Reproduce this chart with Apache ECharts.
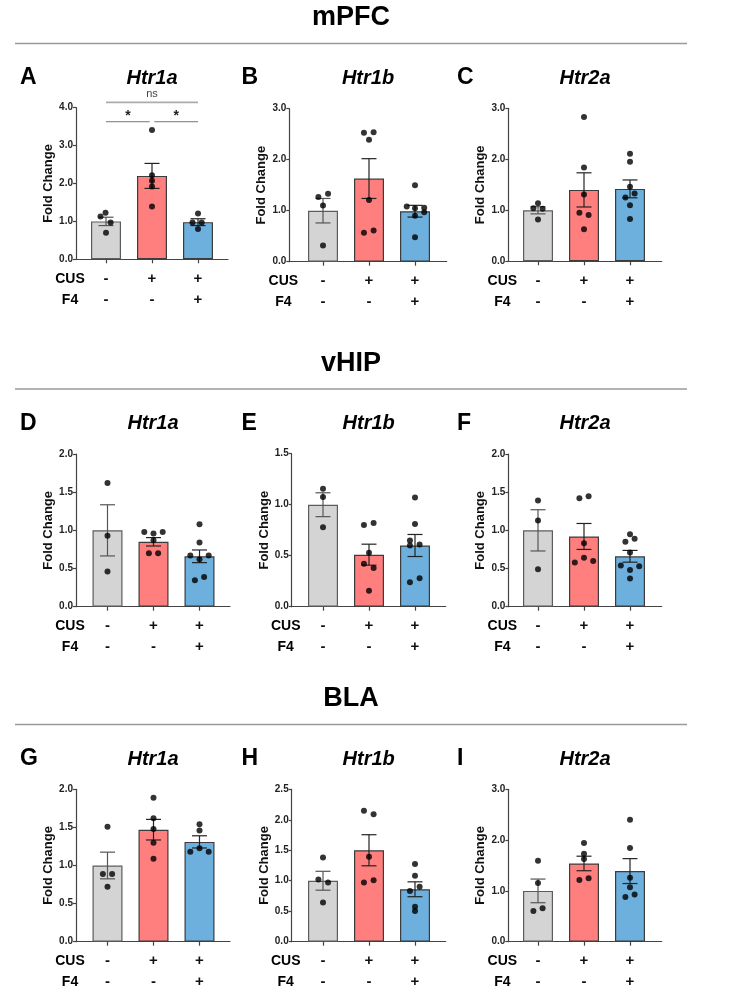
<!DOCTYPE html>
<html lang="en">
<head>
<meta charset="UTF-8">
<title>Fold Change</title>
<script src="https://cdn.jsdelivr.net/npm/echarts@6/dist/echarts.min.js"></script>
<style>
    html, body { margin: 0; padding: 0; background: #fff; }
    #pic { width: 734px; height: 1001px; }
</style>
</head>
<body>
<div id="pic"></div>
<script type="text/javascript">
    // ---- data ----
    var regions = ['mPFC', 'vHIP', 'BLA'];
    var genes = ['Htr1a', 'Htr1b', 'Htr2a'];
    var panelLetters = ['A', 'B', 'C', 'D', 'E', 'F', 'G', 'H', 'I'];
    var cusSigns = ['-', '+', '+'];
    var f4Signs = ['-', '-', '+'];

    var yMax = [4, 3, 3, 2, 1.5, 2, 2, 2.5, 3];
    var yStep = [1, 1, 1, 0.5, 0.5, 0.5, 0.5, 0.5, 1];

    // bar heights (mean) for ctrl / CUS / CUS+F4
    var barMeans = [
        [1.00, 2.20, 0.98],
        [1.00, 1.63, 0.99],
        [1.00, 1.40, 1.42],
        [1.00, 0.85, 0.66],
        [1.00, 0.51, 0.60],
        [1.00, 0.92, 0.66],
        [1.00, 1.47, 1.31],
        [1.00, 1.50, 0.86],
        [1.00, 1.54, 1.39]
    ];
    // error bars (SEM)
    var barSems = [
        [0.11, 0.33, 0.09],
        [0.24, 0.39, 0.115],
        [0.07, 0.335, 0.175],
        [0.335, 0.055, 0.083],
        [0.117, 0.103, 0.108],
        [0.27, 0.17, 0.077],
        [0.175, 0.135, 0.08],
        [0.155, 0.255, 0.122],
        [0.233, 0.143, 0.245]
    ];

    // individual animals: [jitter, value] per group
    var ptsA = [
        [[-0.01, 1.23], [-0.12, 1.13], [0.1, 0.97], [0, 0.70]],
        [[0, 3.41], [0, 2.22], [0, 2.07], [0, 1.92], [0, 1.39]],
        [[0, 1.21], [-0.12, 0.97], [0.08, 0.97], [0, 0.80]]
    ];
    var ptsB = [
        [[-0.1, 1.27], [0.11, 1.33], [0, 1.10], [0, 0.32]],
        [[-0.11, 2.53], [0.1, 2.54], [0, 2.39], [0, 1.21], [-0.11, 0.57], [0.1, 0.61]],
        [[0, 1.50], [-0.18, 1.08], [0, 1.05], [0.2, 1.06], [0.2, 0.97], [0, 0.90], [0, 0.48]]
    ];
    var ptsC = [
        [[0, 1.14], [-0.1, 1.04], [0.1, 1.03], [0, 0.82]],
        [[0, 2.83], [0, 1.84], [0, 1.31], [-0.1, 0.95], [0.1, 0.91], [0, 0.63]],
        [[0, 2.11], [0, 1.95], [0, 1.46], [-0.1, 1.25], [0.1, 1.33], [0, 1.10], [0, 0.83]]
    ];
    var ptsD = [
        [[0, 1.62], [0, 0.93], [0, 0.46]],
        [[-0.2, 0.98], [0, 0.96], [0.2, 0.98], [0, 0.87], [-0.1, 0.70], [0.1, 0.70]],
        [[0, 1.08], [0, 0.84], [-0.2, 0.67], [0.2, 0.67], [0, 0.62], [-0.1, 0.345], [0.1, 0.39]]
    ];
    var ptsE = [
        [[0, 1.157], [0, 1.075], [0, 0.78]],
        [[-0.11, 0.80], [0.1, 0.82], [0, 0.53], [-0.11, 0.42], [0.1, 0.38], [0, 0.157]],
        [[0, 1.07], [0, 0.81], [-0.11, 0.65], [0.1, 0.61], [-0.11, 0.60], [-0.11, 0.24], [0.1, 0.28]]
    ];
    var ptsF = [
        [[0, 1.39], [0, 1.13], [0, 0.49]],
        [[-0.1, 1.42], [0.1, 1.445], [0, 0.83], [-0.2, 0.58], [0, 0.64], [0.2, 0.60]],
        [[0, 0.95], [0.1, 0.89], [-0.1, 0.85], [0, 0.71], [-0.2, 0.54], [0.2, 0.53], [0, 0.48], [0, 0.37]]
    ];
    var ptsG = [
        [[0, 1.51], [-0.1, 0.89], [0.1, 0.89], [0, 0.72]],
        [[0, 1.89], [0, 1.62], [0, 1.48], [0, 1.30], [0, 1.09]],
        [[0, 1.54], [0, 1.46], [-0.2, 1.18], [0, 1.225], [0.2, 1.18]]
    ];
    var ptsH = [
        [[0, 1.38], [-0.1, 1.02], [0.11, 0.97], [0, 0.645]],
        [[-0.11, 2.15], [0.1, 2.09], [0, 1.395], [-0.11, 0.97], [0.1, 1.006]],
        [[0, 1.275], [0, 1.083], [-0.11, 0.83], [0.1, 0.90], [0, 0.574], [0, 0.503]]
    ];
    var ptsI = [
        [[0, 1.595], [0, 1.156], [-0.1, 0.604], [0.1, 0.657]],
        [[0, 1.944], [0, 1.733], [0, 1.628], [-0.1, 1.215], [0.1, 1.248]],
        [[0, 2.40], [0, 1.845], [0, 1.26], [0, 1.07], [-0.1, 0.88], [0.1, 0.93]]
    ];
    var panelPoints = [ptsA, ptsB, ptsC, ptsD, ptsE, ptsF, ptsG, ptsH, ptsI];

    // significance brackets in panel A: [from, to, height]
    var sigBracketsA = [[0, 2, 4.14], [0, 0.95, 3.63], [1.05, 2, 3.63]];
    var sigLabelsA = ['ns', '*', '*'];

    // ---- layout (pixels) ----
    var SPACING = 46;
    var axisLeft = [76, 289.3, 508.3, 76, 291.7, 508.3, 76, 291.7, 508.3];
    var axisRight = [228, 446.7, 661.7, 230, 445.7, 661.7, 230, 445.7, 661.7];
    var firstCenter = [106, 323, 538, 107.5, 323, 538, 107.5, 323, 538];
    var axisTop = [107.7, 108.7, 108.3, 454, 453.7, 454, 789.3, 789.3, 789.3];
    var axisBottom = [259.3, 261.7, 261.3, 606.7, 606.7, 606.7, 941.7, 941.7, 941.7];
    var headerY = [18, 363.5, 698.5];
    var ruleY = [43.5, 389, 724.5];
    var rowTitleY = [78, 423.5, 759];
    var colLetterX = [20, 241.5, 457];

    var FONT = '"Liberation Sans", Arial, Helvetica, sans-serif';
    var barFill = ['#d4d4d4', '#ff7f7f', '#6db0de'];
    var barEdge = ['#5c5c5c', '#3c3c3c', '#3c3c3c'];
    var errColor = ['#555555', '#222222', '#222222'];

    function txt(text, x, y, font, align, color) {
        return {
            type: 'text', silent: true,
            style: {
                text: text, x: x, y: y, font: font, fill: color || '#000',
                align: align || 'center', verticalAlign: 'middle',
                textAlign: align || 'center', textVerticalAlign: 'middle'
            }
        };
    }

    var grids = [], xAxes = [], yAxes = [], series = [], graphics = [];

    for (var r = 0; r < 3; r++) {
        graphics.push(txt(regions[r], 351, headerY[r], 'bold 27px ' + FONT));
        graphics.push({
            type: 'line', silent: true,
            shape: {x1: 15, y1: ruleY[r], x2: 687, y2: ruleY[r]},
            style: {stroke: '#9a9a9a', lineWidth: 1.5}
        });
    }

    for (var p = 0; p < 9; p++) {
        var row = Math.floor(p / 3), col = p % 3;
        var left = axisLeft[p], right = axisRight[p], c0 = firstCenter[p];
        var xMin = -(c0 - left) / SPACING;
        var xMax = 2 + (right - (c0 + 2 * SPACING)) / SPACING;

        grids.push({
            left: left, top: axisTop[p],
            width: right - left, height: axisBottom[p] - axisTop[p]
        });

        xAxes.push({
            gridIndex: p, type: 'value', min: xMin, max: xMax,
            splitLine: {show: false},
            axisLine: {show: true, onZero: false, lineStyle: {color: '#444', width: 1.2}},
            axisTick: {show: true, customValues: [0, 1, 2], length: 4, lineStyle: {color: '#444', width: 1.2}},
            axisLabel: {
                customValues: [0, 1, 2], margin: 9,
                formatter: function (v) {
                    var i = Math.round(v);
                    return cusSigns[i] + '\n' + f4Signs[i];
                },
                fontFamily: FONT, fontWeight: 'bold', fontSize: 15, lineHeight: 21, color: '#111'
            }
        });

        yAxes.push({
            gridIndex: p, type: 'value', min: 0, max: yMax[p], interval: yStep[p],
            splitLine: {show: false},
            axisLine: {show: true, onZero: false, lineStyle: {color: '#444', width: 1.2}},
            axisTick: {show: true, length: 3, lineStyle: {color: '#444', width: 1.2}},
            axisLabel: {
                margin: 3, fontFamily: FONT, fontWeight: 'bold', fontSize: 10, color: '#222',
                formatter: function (v) { return v.toFixed(1); }
            },
            name: 'Fold Change', nameLocation: 'middle', nameGap: 21,
            nameTextStyle: {fontFamily: FONT, fontWeight: 'bold', fontSize: 13, color: '#111'}
        });

        // bars
        series.push({
            type: 'bar', xAxisIndex: p, yAxisIndex: p, barWidth: 30, silent: true, z: 2,
            data: barMeans[p].map(function (m, g) {
                return {value: [g, m], itemStyle: {color: barFill[g], borderColor: barEdge[g], borderWidth: 1.2}};
            })
        });

        // SEM error bars
        series.push({
            type: 'custom', xAxisIndex: p, yAxisIndex: p, silent: true, z: 3,
            data: barMeans[p].map(function (m, g) { return [g, m, barSems[p][g]]; }),
            renderItem: function (params, api) {
                var x = api.value(0), m = api.value(1), s = api.value(2);
                var hi = api.coord([x, m + s]), lo = api.coord([x, m - s]);
                var st = {stroke: errColor[Math.round(x)], lineWidth: 1.2};
                return {
                    type: 'group', children: [
                        {type: 'line', shape: {x1: hi[0], y1: hi[1], x2: lo[0], y2: lo[1]}, style: st},
                        {type: 'line', shape: {x1: hi[0] - 7.5, y1: hi[1], x2: hi[0] + 7.5, y2: hi[1]}, style: st},
                        {type: 'line', shape: {x1: lo[0] - 7.5, y1: lo[1], x2: lo[0] + 7.5, y2: lo[1]}, style: st}
                    ]
                };
            }
        });

        // dots
        var pts = [];
        panelPoints[p].forEach(function (group, g) {
            group.forEach(function (d) { pts.push([g + d[0], d[1]]); });
        });
        series.push({
            type: 'scatter', xAxisIndex: p, yAxisIndex: p, silent: true, z: 4,
            data: pts, symbolSize: 6, itemStyle: {color: '#000'}
        });

        // texts around the panel
        graphics.push(txt(panelLetters[p], colLetterX[col], rowTitleY[row], 'bold 23px ' + FONT, 'left'));
        graphics.push(txt(genes[col], (left + right) / 2, rowTitleY[row], 'italic bold 20px ' + FONT));
        graphics.push(txt('CUS', left - 6, axisBottom[p] + 19.5, 'bold 14px ' + FONT));
        graphics.push(txt('F4', left - 6, axisBottom[p] + 40.5, 'bold 14px ' + FONT));
    }

    // significance brackets for panel A
    series.push({
        type: 'custom', xAxisIndex: 0, yAxisIndex: 0, silent: true, clip: false, z: 5,
        data: sigBracketsA,
        renderItem: function (params, api) {
            var a = api.coord([api.value(0), api.value(2)]);
            var b = api.coord([api.value(1), api.value(2)]);
            var lab = sigLabelsA[params.dataIndex];
            var isNs = lab === 'ns';
            return {
                type: 'group', children: [
                    {type: 'line', shape: {x1: a[0], y1: a[1], x2: b[0], y2: b[1]},
                        style: {stroke: isNs ? '#ababab' : '#777', lineWidth: isNs ? 1.6 : 1}},
                    {type: 'text', style: {
                        text: lab, x: (a[0] + b[0]) / 2, y: a[1] - (isNs ? 8 : 6),
                        align: 'center', verticalAlign: 'middle',
                        font: (isNs ? '11px ' : 'bold 14px ') + FONT, fill: isNs ? '#444' : '#222'
                    }}
                ]
            };
        }
    });

    var myChart = echarts.init(document.getElementById('pic'));
    myChart.setOption({
        animation: false,
        grid: grids,
        xAxis: xAxes,
        yAxis: yAxes,
        series: series,
        graphic: graphics
    });
</script>
</body>
</html>
